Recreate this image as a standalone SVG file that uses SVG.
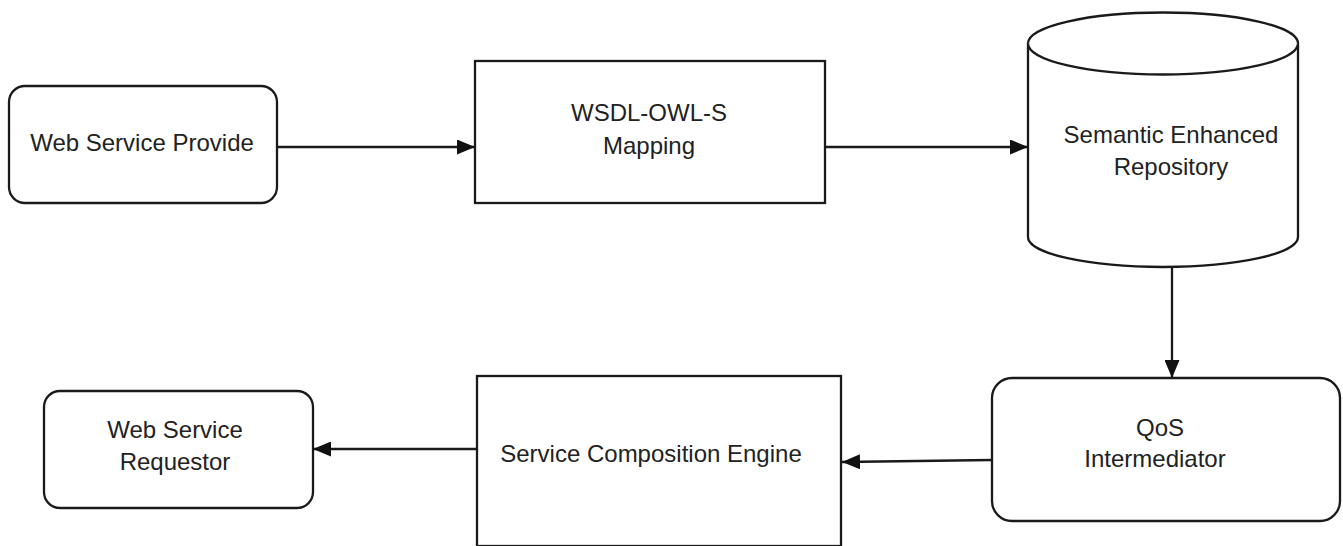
<svg xmlns="http://www.w3.org/2000/svg" width="1343" height="546" viewBox="0 0 1343 546">
<style>
.box{fill:#fff;stroke:#1a1a1a;stroke-width:2.3}
.lbl{font-family:"Liberation Sans",Arial,sans-serif;font-size:24px;fill:#222;text-anchor:middle}
.edge{fill:none;stroke:#1a1a1a;stroke-width:2.3}
</style>
<defs>
<marker id="arr" markerUnits="userSpaceOnUse" markerWidth="18" markerHeight="15" refX="18" refY="7.5" orient="auto">
<path d="M0,0 L18,7.5 L0,15 z" fill="#111"/>
</marker>
</defs>
<rect width="1343" height="546" fill="#fff"/>
<g id="provider">
<rect class="box" x="9" y="86" width="268" height="117" rx="16"/>
<text class="lbl" x="142" y="151">Web Service Provide</text>
</g>
<g id="mapping">
<rect class="box" x="475" y="61" width="350" height="142"/>
<text class="lbl" x="649" y="121">WSDL-OWL-S</text>
<text class="lbl" x="649" y="154">Mapping</text>
</g>
<g id="repository">
<path class="box" d="M1028,43.5 L1028,237 A135,30 0 0 0 1298,237 L1298,43.5 A135,31 0 0 0 1028,43.5 z"/>
<path class="box" d="M1028,43.5 A135,31 0 0 0 1298,43.5" fill="none"/>
<text class="lbl" x="1171" y="143">Semantic Enhanced</text>
<text class="lbl" x="1171" y="175">Repository</text>
</g>
<g id="qos">
<rect class="box" x="992" y="378" width="348" height="143" rx="20"/>
<text class="lbl" x="1160" y="436">QoS</text>
<text class="lbl" x="1155" y="467">Intermediator</text>
</g>
<g id="engine">
<rect class="box" x="477" y="376" width="364" height="170"/>
<text class="lbl" x="651" y="462">Service Composition Engine</text>
</g>
<g id="requestor">
<rect class="box" x="44" y="391" width="269" height="117" rx="16"/>
<text class="lbl" x="175" y="438">Web Service</text>
<text class="lbl" x="175" y="470">Requestor</text>
</g>
<g id="connectors">
<line class="edge" x1="277" y1="147" x2="475" y2="147" marker-end="url(#arr)"/>
<line class="edge" x1="825" y1="147" x2="1028" y2="147" marker-end="url(#arr)"/>
<line class="edge" x1="1172" y1="266" x2="1172" y2="378" marker-end="url(#arr)"/>
<line class="edge" x1="992" y1="460" x2="842" y2="462" marker-end="url(#arr)"/>
<line class="edge" x1="477" y1="449" x2="313" y2="449" marker-end="url(#arr)"/>
</g>
</svg>
